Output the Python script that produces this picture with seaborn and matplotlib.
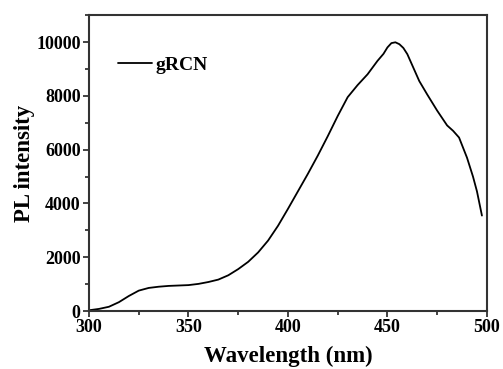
import numpy as np
import pandas as pd
import seaborn as sns
import matplotlib.pyplot as plt
from matplotlib.ticker import MultipleLocator

# PL spectrum
wavelength = [300, 305, 310, 315, 320, 325, 330, 335, 340, 345, 350, 355, 360, 365,
              370, 375, 380, 385, 390, 395, 400, 405, 410, 415, 420, 425, 430, 435,
              440, 445, 448, 450, 452, 454, 456, 458, 460, 463, 466, 470, 475, 480,
              483, 486, 490, 493, 495, 497.5]
intensity = [30, 80, 160, 330, 560, 760, 860, 905, 935, 950, 965, 1010, 1080, 1170,
             1330, 1560, 1830, 2180, 2620, 3170, 3800, 4450, 5100, 5780, 6500, 7250, 7950, 8400,
             8800, 9300, 9560, 9800, 9960, 9990, 9920, 9780, 9550, 9050, 8550, 8050, 7450, 6900,
             6700, 6450, 5700, 5000, 4450, 3550]
sample = "gRCN"

df = pd.DataFrame({"Wavelength": wavelength, "PL": intensity})

sns.set_style("ticks")
plt.rcParams['font.family'] = ['Liberation Serif', 'DejaVu Serif']
plt.rcParams['font.weight'] = 'bold'
plt.rcParams['text.color'] = 'black'
plt.rcParams['axes.labelcolor'] = 'black'

fig, ax = plt.subplots(figsize=(5.03, 3.69), dpi=100)
fig.subplots_adjust(left=0.177, right=0.968, top=0.959, bottom=0.157)

sns.lineplot(data=df, x="Wavelength", y="PL", ax=ax, color="black", linewidth=1.3, label=sample)

ax.set_xlim(300, 500)
ax.set_ylim(0, 11000)
ax.xaxis.set_major_locator(MultipleLocator(50))
ax.xaxis.set_minor_locator(MultipleLocator(25))
ax.yaxis.set_major_locator(MultipleLocator(2000))
ax.yaxis.set_minor_locator(MultipleLocator(1000))
ax.tick_params(which="both", direction="out", top=False, right=False, labelsize=13,
               width=1.2, color="#222222", labelcolor="black", pad=2)
ax.tick_params(which="major", length=4)
ax.tick_params(which="minor", length=3)
for lab in ax.get_xticklabels() + ax.get_yticklabels():
    lab.set_fontweight("bold")

for s in ax.spines.values():
    s.set_visible(True)
    s.set_linewidth(1.5)
    s.set_color("#333333")

ax.set_xlabel("Wavelength (nm)", fontsize=16.5, fontweight="bold", labelpad=7)
ax.set_ylabel("PL intensity", fontsize=16.5, fontweight="bold", labelpad=1)

leg = ax.legend(loc="upper left", bbox_to_anchor=(0.03, 0.92), frameon=False,
                handlelength=1.7, handletextpad=0.2, prop={"size": 14, "weight": "bold"})

plt.savefig("out.png", dpi=100)
